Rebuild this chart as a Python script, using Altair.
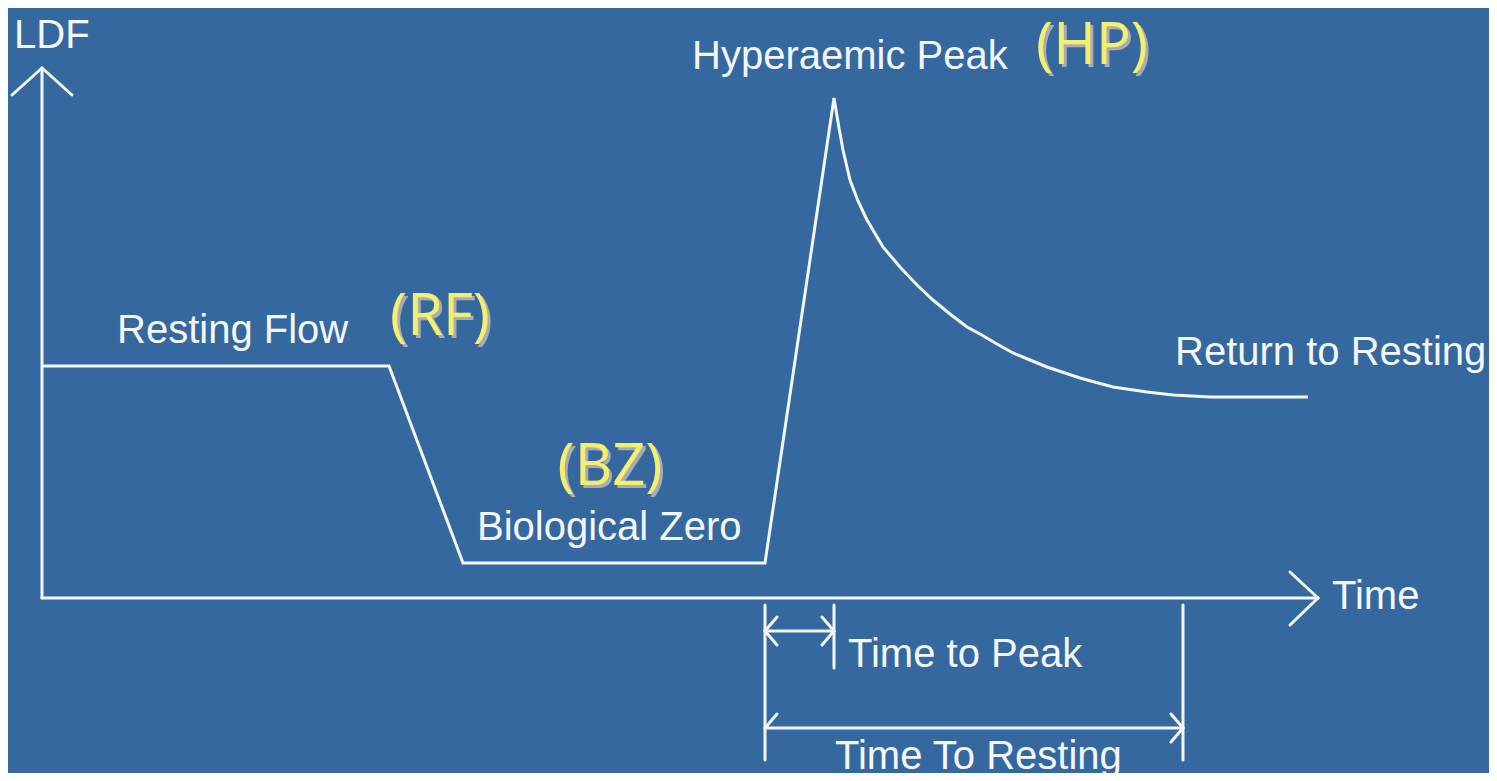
import altair as alt
import pandas as pd

# ---- LDF response curve (time units, LDF units) ----
curve_t = [0, 34.7, 42.1, 72.3, 79.2, 79.4, 79.7, 80.1, 80.8, 81.6, 82.5, 84.1, 85.8, 87.5, 89.1, 90.8, 92.5,
           93.8, 95.5, 97.1, 98.8, 100.5, 103.8, 107.1, 110.5, 113.1, 116.8, 126.6]
curve_ldf = [23.2, 23.2, 3.5, 3.5, 50.0, 48.8, 47.0, 44.8, 41.8, 39.7, 37.8, 35.1, 33.1, 31.3, 29.8, 28.4, 27.1,
             26.4, 25.4, 24.5, 23.8, 23.1, 22.0, 21.1, 20.6, 20.3, 20.1, 20.1]

# ---- axis lines, arrow heads, measurement brackets (x, y, x2, y2) ----
seg_x = [0, -3, 3, 0, 124.8, 124.8, 72.3, 79.2, 114.1, 72.3, 72.3, 72.3, 79.2, 79.2, 72.3, 72.3, 114.1, 114.1]
seg_y = [0, 50.3, 50.3, 0, 2.6, -2.7, -0.7, -0.7, -0.7, -3.3, -3.3, -3.3, -3.3, -3.3, -13.0, -13.0, -13.0, -13.0]
seg_x2 = [0, 0, 0, 127.6, 127.6, 127.6, 72.3, 79.2, 114.1, 79.2, 73.5, 73.5, 78.0, 78.0, 114.1, 73.5, 112.9, 112.9]
seg_y2 = [53, 53, 53, 0, 0, 0, -16.2, -7.0, -16.2, -3.3, -1.9, -4.7, -1.9, -4.7, -13.0, -11.6, -11.6, -14.4]

# ---- white labels ----
lab_text = ["LDF", "Resting Flow", "Biological Zero", "Hyperaemic Peak", "Return to Resting",
            "Time", "Time to Peak", "Time To Resting"]
lab_t = [-2.8, 7.5, 43.5, 65.0, 113.3, 129.0, 80.6, 79.3]
lab_ldf = [56.2, 26.7, 7.0, 54.1, 24.5, 0.1, -5.7, -15.9]

# ---- yellow abbreviations ----
abb_text = ["(RF)", "(BZ)", "(HP)"]
abb_t = [39.8, 56.8, 105.0]
abb_ldf = [28.0, 13.0, 55.1]

curve = pd.DataFrame({"t": curve_t, "ldf": curve_ldf, "i": range(len(curve_t))})
segs = pd.DataFrame({"x": seg_x, "y": seg_y, "x2": seg_x2, "y2": seg_y2})
labels = pd.DataFrame({"t": lab_t, "ldf": lab_ldf, "text": lab_text})
abbs = pd.DataFrame({"t": abb_t, "ldf": abb_ldf, "text": abb_text})

xs = alt.Scale(domain=[-3.4, 144.7], nice=False, zero=False)
ys = alt.Scale(domain=[-17.5, 59.0], nice=False, zero=False)
WHITE = "#F4F7FA"

line = alt.Chart(curve).mark_line(color=WHITE, strokeWidth=3, strokeJoin="miter").encode(
    x=alt.X("t:Q", scale=xs, axis=None),
    y=alt.Y("ldf:Q", scale=ys, axis=None),
    order="i:Q",
)

rules = alt.Chart(segs).mark_rule(color=WHITE, strokeWidth=3, strokeCap="round").encode(
    x=alt.X("x:Q", scale=xs, axis=None),
    y=alt.Y("y:Q", scale=ys, axis=None),
    x2="x2:Q",
    y2="y2:Q",
)

text = alt.Chart(labels).mark_text(
    align="left", baseline="middle", font="Liberation Sans", fontSize=40, color=WHITE
).encode(
    x=alt.X("t:Q", scale=xs, axis=None),
    y=alt.Y("ldf:Q", scale=ys, axis=None),
    text="text:N",
)

shadow = alt.Chart(abbs).mark_text(
    align="center", baseline="middle", font="Open Sans", fontSize=58, color="#A9ADB3", dx=3, dy=3
).encode(
    x=alt.X("t:Q", scale=xs, axis=None),
    y=alt.Y("ldf:Q", scale=ys, axis=None),
    text="text:N",
)

yellow = alt.Chart(abbs).mark_text(
    align="center", baseline="middle", font="Open Sans", fontSize=58, color="#F4EF6E"
).encode(
    x=alt.X("t:Q", scale=xs, axis=None),
    y=alt.Y("ldf:Q", scale=ys, axis=None),
    text="text:N",
)

chart = alt.layer(line, rules, text, shadow, yellow).properties(
    width=1481, height=765, padding=0, background="#34689F",
    autosize=alt.AutoSizeParams(type="none"),
).configure_view(stroke=None)

chart.save("out.html", embed_options={"renderer": "svg", "actions": False})
